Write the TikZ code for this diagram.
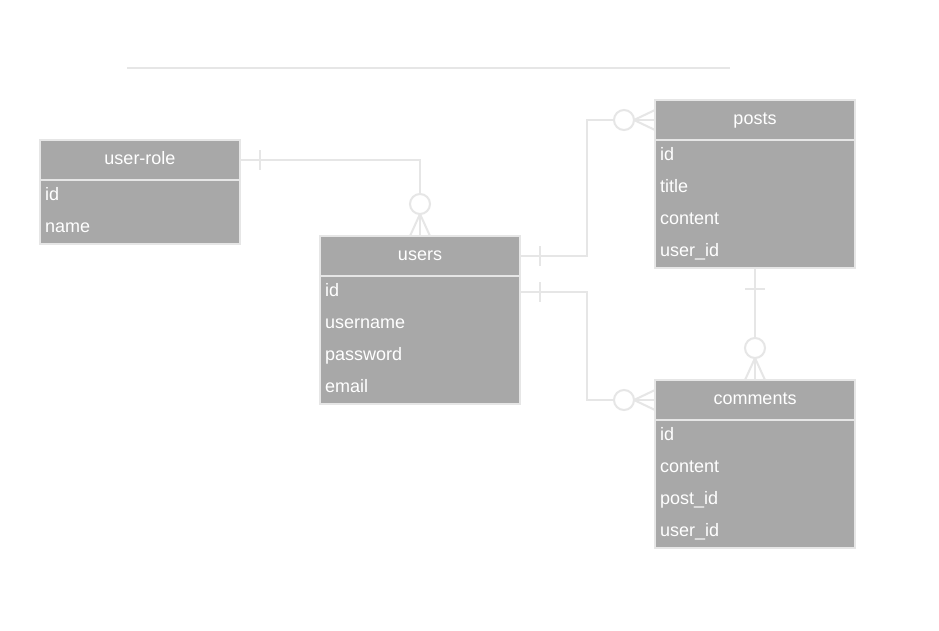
\documentclass[tikz,border=0pt]{standalone}
\usepackage{fontspec}
\setmainfont{Liberation Sans}
\usetikzlibrary{calc}
\definecolor{tblfill}{HTML}{A8A8A8}
\definecolor{edgec}{HTML}{E6E6E6}
\begin{document}
\begin{tikzpicture}[x=1pt,y=-1pt,
  hdr/.style={draw=edgec, line width=2pt, fill=tblfill, minimum width=200pt, minimum height=40pt, inner sep=0pt, outer sep=0pt, anchor=north west},
  body/.style={draw=edgec, line width=2pt, fill=tblfill, minimum width=200pt, inner sep=0pt, outer sep=0pt, anchor=north west},
  htext/.style={text=white, font=\fontsize{18}{20}\selectfont, anchor=base, inner sep=0pt},
  rtext/.style={text=white, font=\fontsize{18}{20}\selectfont, anchor=base west, inner sep=0pt},
  conn/.style={draw=edgec, line width=2pt},
  ringmark/.style={draw=edgec, line width=2pt, fill=white}
]
\useasboundingbox (0,0) rectangle (939,630);
\fill[white] (0,0) rectangle (939,630);
% top line
\coordinate (tl) at (127,68);
\coordinate (tr) at (730,68);
\draw[conn] (tl) -- (tr);

% connectors
\coordinate (usid) at (520,292);

% tables
\node[hdr] (urH) at (40,140) {};
\node[body, minimum height=64pt] (urB) at (40,180) {};
\node[htext] (urT) at (140,164) {user-role};
\node[rtext] (ur1) at (45,200) {id};
\node[rtext] (ur2) at (45,232) {name};

\node[hdr] (usH) at (320,236) {};
\node[body, minimum height=128pt] (usB) at (320,276) {};
\node[htext] (usT) at (420,260) {users};
\node[rtext] (us1) at (325,296) {id};
\node[rtext] (us2) at (325,328) {username};
\node[rtext] (us3) at (325,360) {password};
\node[rtext] (us4) at (325,392) {email};

\node[hdr] (poH) at (655,100) {};
\node[body, minimum height=128pt] (poB) at (655,140) {};
\node[htext] (poT) at (755,124) {posts};
\node[rtext] (po1) at (660,160) {id};
\node[rtext] (po2) at (660,192) {title};
\node[rtext] (po3) at (660,224) {content};
\node[rtext] (po4) at (660,256) {user\_id};

\node[hdr] (coH) at (655,380) {};
\node[body, minimum height=128pt] (coB) at (655,420) {};
\node[htext] (coT) at (755,404) {comments};
\node[rtext] (co1) at (660,440) {id};
\node[rtext] (co2) at (660,472) {content};
\node[rtext] (co3) at (660,504) {post\_id};
\node[rtext] (co4) at (660,536) {user\_id};

\draw[conn] (urH.east) -| (usH.north);
\draw[conn] (usH.east) -- ++(67,0) |- (poH.west);
\draw[conn] (usid) -- ++(67,0) |- (coH.west);
\draw[conn] (poB.south) -- (coH.north);

% user-role -> users
\draw[conn] ($(urH.east)+(20,-10)$) -- ($(urH.east)+(20,10)$);
\draw[ringmark] ($(usH.north)+(0,-32)$) circle[radius=10];
\draw[conn] ($(usH.north)+(0,-22)$) -- ($(usH.north)+(-10,0)$);
\draw[conn] ($(usH.north)+(0,-22)$) -- ($(usH.north)+(10,0)$);

% users -> posts
\draw[conn] ($(usH.east)+(20,-10)$) -- ($(usH.east)+(20,10)$);
\draw[ringmark] ($(poH.west)+(-31,0)$) circle[radius=10];
\draw[conn] ($(poH.west)+(-21,0)$) -- ($(poH.west)+(0,-10)$);
\draw[conn] ($(poH.west)+(-21,0)$) -- ($(poH.west)+(0,10)$);

% users -> comments
\draw[conn] ($(usid)+(20,-10)$) -- ($(usid)+(20,10)$);
\draw[ringmark] ($(coH.west)+(-31,0)$) circle[radius=10];
\draw[conn] ($(coH.west)+(-21,0)$) -- ($(coH.west)+(0,-10)$);
\draw[conn] ($(coH.west)+(-21,0)$) -- ($(coH.west)+(0,10)$);

% posts -> comments
\draw[conn] ($(poB.south)+(-10,21)$) -- ($(poB.south)+(10,21)$);
\draw[ringmark] ($(coH.north)+(0,-32)$) circle[radius=10];
\draw[conn] ($(coH.north)+(0,-22)$) -- ($(coH.north)+(-10,0)$);
\draw[conn] ($(coH.north)+(0,-22)$) -- ($(coH.north)+(10,0)$);
\end{tikzpicture}
\end{document}
